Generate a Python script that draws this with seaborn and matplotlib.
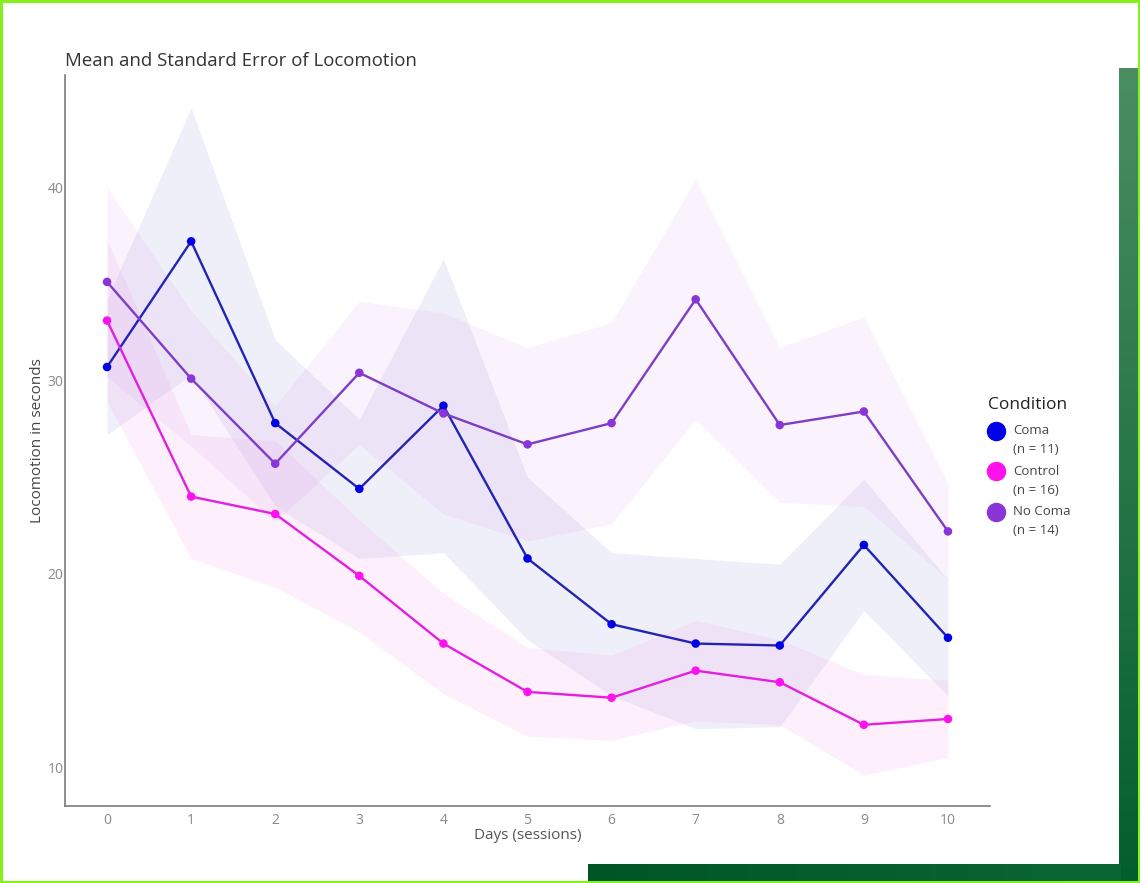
import numpy as np
import pandas as pd
import matplotlib
matplotlib.use("Agg")
import matplotlib.pyplot as plt
from matplotlib.lines import Line2D
from matplotlib.patches import Rectangle
from matplotlib.legend_handler import HandlerLine2D
import seaborn as sns

# Mean locomotion (seconds) per day and standard error, by condition
days = list(range(11))
conditions = ["Coma", "Control", "No Coma"]
group_sizes = [11, 16, 14]

coma_mean = [30.7, 37.2, 27.8, 24.4, 28.7, 20.8, 17.4, 16.4, 16.3, 21.5, 16.7]
coma_se = [3.5, 6.9, 4.3, 3.6, 7.6, 4.2, 3.7, 4.4, 4.2, 3.4, 3.0]

control_mean = [33.1, 24.0, 23.1, 19.9, 16.4, 13.9, 13.6, 15.0, 14.4, 12.2, 12.5]
control_se = [4.2, 3.2, 3.8, 2.9, 2.6, 2.3, 2.2, 2.6, 2.2, 2.6, 2.0]

nocoma_mean = [35.1, 30.1, 25.7, 30.4, 28.3, 26.7, 27.8, 34.2, 27.7, 28.4, 22.2]
nocoma_se = [4.9, 3.5, 3.0, 3.7, 5.2, 5.0, 5.2, 6.2, 4.0, 4.9, 2.5]

line_colors = {"Coma": "#2323b4", "Control": "#e31fe0", "No Coma": "#7d3dc6"}
dot_colors = {"Coma": "#0000e6", "Control": "#ff10ee", "No Coma": "#8a35d8"}
band_colors = {"Coma": "#5050d0", "Control": "#f060e0", "No Coma": "#d070e0"}

frames = []
for name, m, s in zip(conditions,
                      [coma_mean, control_mean, nocoma_mean],
                      [coma_se, control_se, nocoma_se]):
    frames.append(pd.DataFrame({"Day": days, "Locomotion": m, "SE": s,
                                "Condition": name}))
df = pd.concat(frames, ignore_index=True)

sns.set_theme(style="white")
plt.rcParams["font.family"] = ["Open Sans", "DejaVu Sans"]

W, H = 1140, 883
fig = plt.figure(figsize=(W / 100, H / 100), dpi=100)
fig.patch.set_facecolor("white")

# Decorative dark green frame along the right and bottom edges
def gradient_bar(x0, y0, x1, y1, c_start, c_end, vertical=True):
    bax = fig.add_axes([x0 / W, 1 - y1 / H, (x1 - x0) / W, (y1 - y0) / H])
    n = 256
    t = np.linspace(0, 1, n)
    a = np.array(matplotlib.colors.to_rgb(c_start))
    b = np.array(matplotlib.colors.to_rgb(c_end))
    cols = a[None, :] * (1 - t[:, None]) + b[None, :] * t[:, None]
    img = cols[:, None, :] if vertical else cols[None, :, :]
    bax.imshow(img, aspect="auto", extent=[0, 1, 0, 1] if not vertical else [0, 1, 1, 0])
    bax.set_axis_off()
    return bax

gradient_bar(1119, 68, 1139, 881, "#4a8e62", "#035e2e", vertical=True)
gradient_bar(588, 864, 1121, 881, "#005526", "#0a6734", vertical=False)

ax = fig.add_axes([65 / W, 1 - 806 / H, (990 - 65) / W, (806 - 75) / H])
ax.set_facecolor("none")

for name in conditions:
    sub = df[df["Condition"] == name]
    ax.fill_between(sub["Day"], sub["Locomotion"] - sub["SE"],
                    sub["Locomotion"] + sub["SE"],
                    color=band_colors[name], alpha=0.09, linewidth=0)

sns.lineplot(data=df, x="Day", y="Locomotion", hue="Condition",
             palette=line_colors, linewidth=1.7, legend=False, ax=ax,
             errorbar=None, sort=False)
sns.scatterplot(data=df, x="Day", y="Locomotion", hue="Condition",
                palette=dot_colors, s=38, linewidth=0, legend=False, ax=ax,
                zorder=5)

ax.set_xlim(-0.5, 10.5)
ax.set_ylim(8, 45.8)
ax.set_xticks(days)
ax.set_yticks([10, 20, 30, 40])
ax.tick_params(axis="both", length=2, width=0.8, colors="#9a9a9a",
               labelcolor="#8a8a8a", labelsize=10, pad=3)
ax.tick_params(axis="y", direction="in", pad=1)
for side in ["top", "right"]:
    ax.spines[side].set_visible(False)
for side in ["left", "bottom"]:
    ax.spines[side].set_color("#7a7a7a")
    ax.spines[side].set_linewidth(1.2)

ax.set_xlabel("Days (sessions)", fontsize=11, color="#555555", labelpad=0)
ax.set_ylabel("Locomotion in seconds", fontsize=11, color="#444444", labelpad=2)
fig.text(65 / W, 1 - 61 / H, "Mean and Standard Error of Locomotion",
         fontsize=13.4, color="#333333", ha="left", va="center")


class FirstLineHandler(HandlerLine2D):
    """Legend marker lifted to sit beside the first line of a two-line label."""
    def create_artists(self, legend, orig_handle, xdescent, ydescent, width,
                       height, fontsize, trans):
        arts = super().create_artists(legend, orig_handle, xdescent, ydescent,
                                      width, height, fontsize, trans)
        for a in arts:
            a.set_ydata([v + 7 for v in a.get_ydata()])
        return arts


# Legend: title as its own text, entries below it
fig.text(988 / W, 1 - 405 / H, "Condition", fontsize=12.5, color="#222222",
         ha="left", va="center")
handles = [Line2D([0], [0], marker="o", linestyle="none", markersize=13,
                  markerfacecolor=dot_colors[c], markeredgecolor=dot_colors[c])
           for c in conditions]
labels = [f"{c}\n(n = {n})" for c, n in zip(conditions, group_sizes)]
leg = fig.legend(handles, labels, loc="upper left",
                 bbox_to_anchor=(988 / W, 1 - 424 / H), frameon=False,
                 fontsize=9.5, handletextpad=0.7,
                 labelspacing=0.65, borderaxespad=0, borderpad=0,
                 handlelength=1.2, handler_map={Line2D: FirstLineHandler()})
for t in leg.get_texts():
    t.set_color("#444444")
    t.set_linespacing(1.6)

# Bright outer border
fig.add_artist(Rectangle((0.001, 0.001), 0.998, 0.998, transform=fig.transFigure,
                         fill=False, edgecolor="#84f01c", linewidth=2.2))

fig.savefig("out.png", dpi=100)
